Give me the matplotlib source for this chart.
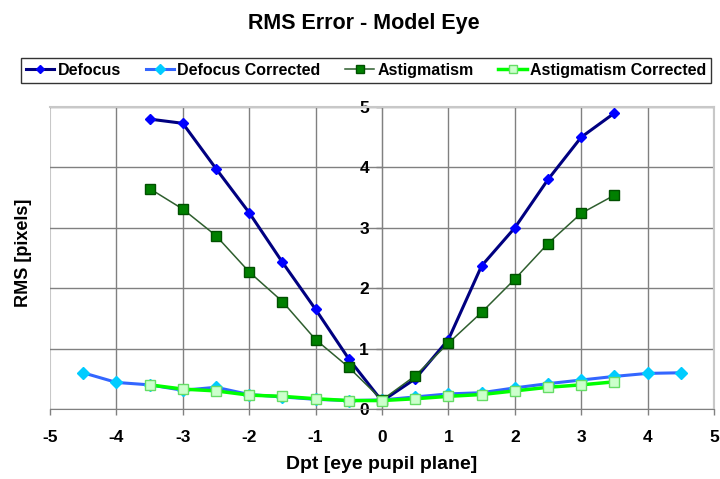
import matplotlib
matplotlib.use("Agg")
import matplotlib.pyplot as plt

plt.rcParams['font.family'] = ['Liberation Sans', 'DejaVu Sans']
plt.rcParams['axes.unicode_minus'] = False

# Data
dpt_main = [-3.5, -3, -2.5, -2, -1.5, -1, -0.5, 0, 0.5, 1, 1.5, 2, 2.5, 3, 3.5]
dpt_wide = [-4.5, -4, -3.5, -3, -2.5, -2, -1.5, -1, -0.5, 0,
            0.5, 1, 1.5, 2, 2.5, 3, 3.5, 4, 4.5]

defocus = [4.80, 4.73, 3.98, 3.25, 2.43, 1.65, 0.83, 0.13,
           0.50, 1.15, 2.37, 3.00, 3.80, 4.50, 4.90]
defocus_corr = [0.60, 0.44, 0.40, 0.31, 0.36, 0.24, 0.20, 0.16, 0.14, 0.15,
                0.20, 0.25, 0.27, 0.35, 0.42, 0.48, 0.54, 0.59, 0.60]
astig = [3.65, 3.31, 2.87, 2.27, 1.78, 1.15, 0.69, 0.15,
         0.55, 1.09, 1.60, 2.15, 2.74, 3.24, 3.54]
astig_corr = [0.40, 0.33, 0.30, 0.23, 0.21, 0.17, 0.14, 0.14,
              0.17, 0.21, 0.24, 0.30, 0.36, 0.40, 0.45]

xticks = [-5, -4, -3, -2, -1, 0, 1, 2, 3, 4, 5]
yticks = [0, 1, 2, 3, 4, 5]

fig = plt.figure(figsize=(7.2, 4.79), dpi=100)
ax = fig.add_axes([0.0694, 0.1461, 0.9223, 0.6305])

ax.plot(dpt_main, defocus, color='#000080', lw=2.2, marker='D', ms=5,
        mfc='#0000FF', mec='#0000FF', label='Defocus', zorder=3)
ax.plot(dpt_wide, defocus_corr, color='#3366FF', lw=2.2, marker='D', ms=6,
        mfc='#00CCFF', mec='#00CCFF', label='Defocus Corrected', zorder=4)
ax.plot(dpt_main, astig, color='#2E5E2E', lw=1.1, marker='s', ms=6.5,
        mfc='#008000', mec='#005000', label='Astigmatism', zorder=5)
ax.plot(dpt_main, astig_corr, color='#00FF00', lw=2.5, marker='s', ms=6.5,
        mfc='#CCFFCC', mec='#66DD66', label='Astigmatism Corrected', zorder=6)

ax.set_xlim(-5, 5)
ax.set_ylim(0, 5)
ax.set_xticks(xticks)
ax.set_yticks(yticks)

# grid: dark interior lines, light plot-area border
ax.grid(True, color='#808080', lw=1.0)
ax.set_axisbelow(True)
for gl in [ax.xaxis.get_gridlines()[0], ax.xaxis.get_gridlines()[-1],
           ax.yaxis.get_gridlines()[-1]]:
    gl.set_color('#C8C8C8')
    gl.set_linewidth(1.5)

ax.spines['left'].set_position(('data', 0))
ax.spines['left'].set_color('#808080')
ax.spines['bottom'].set_color('#808080')
ax.spines['top'].set_color('#C8C8C8')
ax.spines['right'].set_color('#C8C8C8')
ax.spines['top'].set_linewidth(1.5)
ax.spines['right'].set_linewidth(1.5)

ax.tick_params(axis='both', colors='#808080', labelcolor='black',
               labelsize=12.5, length=4.3, width=1)
ax.tick_params(axis='x', pad=11)
ax.tick_params(axis='y', pad=5)
for lab in ax.get_xticklabels() + ax.get_yticklabels():
    lab.set_fontweight('bold')

ax.set_xlabel('Dpt [eye pupil plane]', fontsize=14, fontweight='bold', labelpad=8)
fig.text(0.032, 0.472, 'RMS [pixels]', rotation=90, ha='center', va='center',
         fontsize=13, fontweight='bold')

fig.text(0.505, 0.95, 'RMS Error - Model Eye', ha='center', va='center',
         fontsize=15.5, fontweight='bold')

leg = fig.legend(loc='center', bbox_to_anchor=(0.5085, 0.853), ncol=4,
                 frameon=True, fancybox=False, edgecolor='black',
                 prop={'weight': 'bold', 'size': 11.5}, handlelength=1.8,
                 handletextpad=0.2, columnspacing=1.55, borderpad=0.3,
                 markerscale=0.8)
leg.get_frame().set_linewidth(1.0)

fig.savefig('out.png', dpi=100, facecolor='white')
